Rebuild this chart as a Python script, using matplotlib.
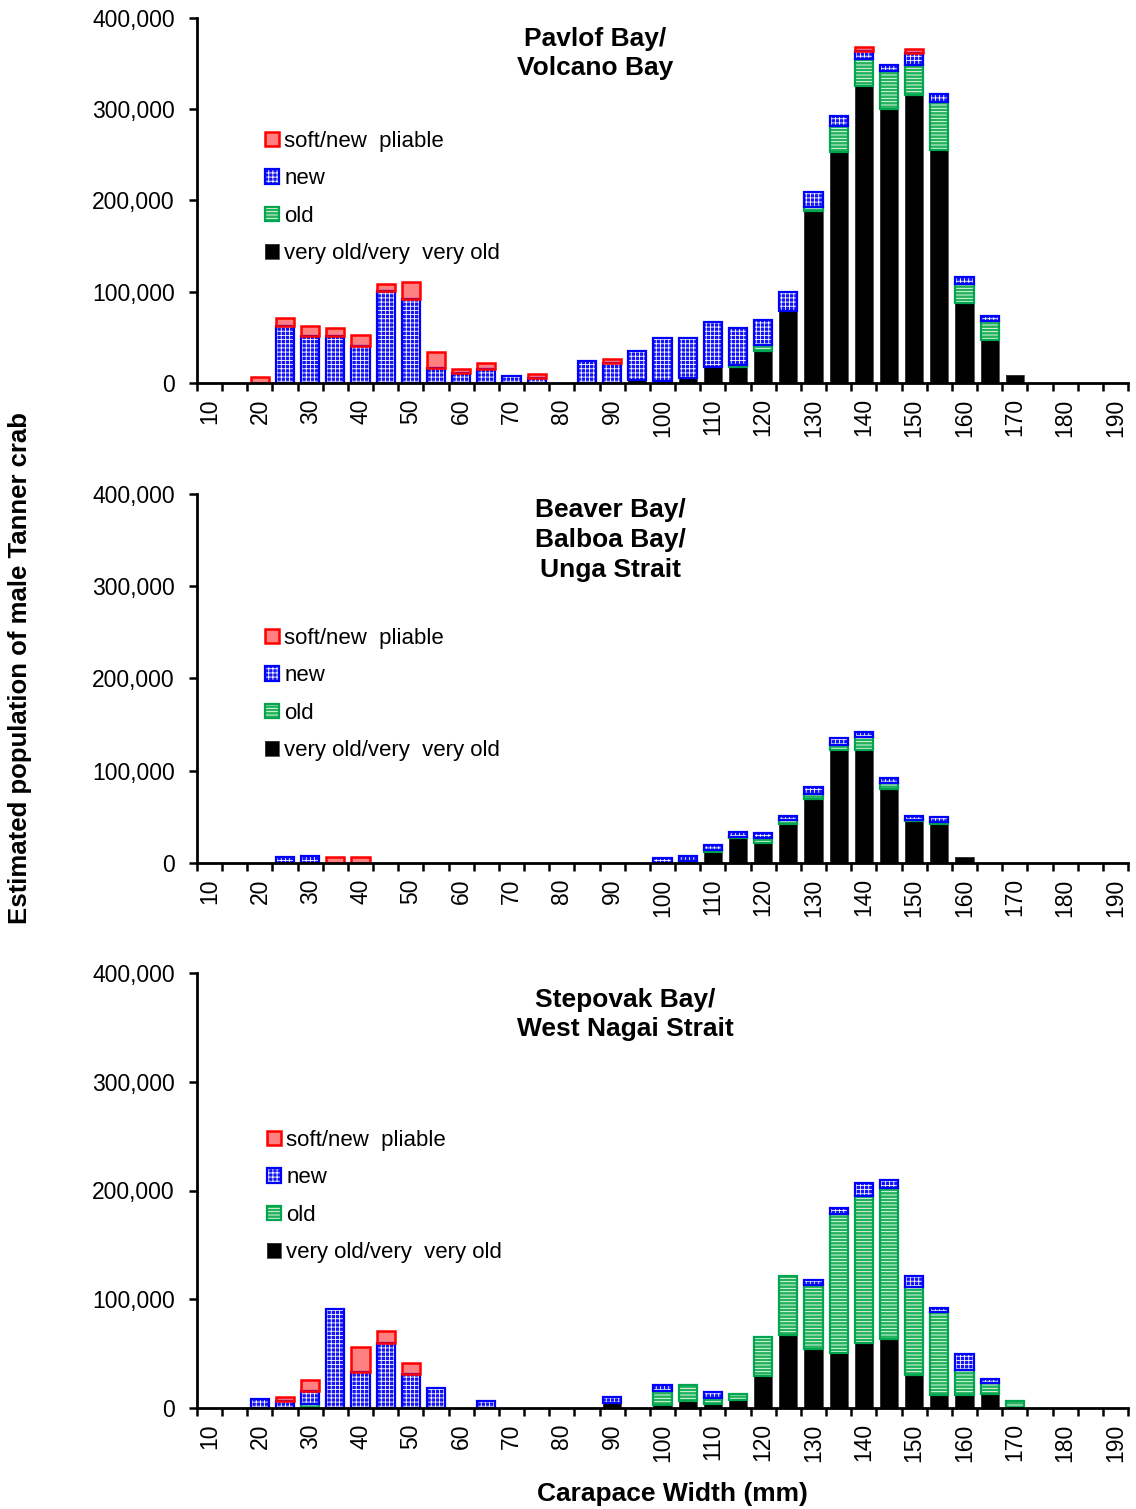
import matplotlib
matplotlib.use("Agg")
import matplotlib.pyplot as plt
from matplotlib.patches import Patch
from matplotlib.legend_handler import HandlerTuple
from matplotlib.ticker import FuncFormatter

plt.rcParams['font.family'] = ['Liberation Sans', 'DejaVu Sans']
plt.rcParams['hatch.linewidth'] = 0.6

# carapace width bins (mm)
width_mm = list(range(10, 195, 5))
tick_labels = [str(w) if w % 10 == 0 else "" for w in width_mm]

# Pavlof Bay / Volcano Bay
pav_very_old = [0, 0, 0, 0, 0, 0, 0, 0,
                0, 0, 0, 0, 0, 0, 0, 0,
                0, 3000, 2000, 5000, 18000, 17000, 35000, 79000,
                189000, 253000, 325000, 300000, 316000, 255000, 88000, 47000,
                9000, 0, 0, 0, 0]
pav_old = [0, 0, 0, 0, 0, 0, 0, 0,
           0, 0, 0, 0, 0, 0, 0, 0,
           0, 0, 0, 0, 0, 3000, 7000, 0,
           4000, 29000, 30000, 42000, 32000, 53000, 21000, 21000,
           0, 0, 0, 0, 0]
pav_new = [0, 0, 0, 63000, 52000, 52000, 41000, 101000,
           92000, 16000, 11000, 15000, 8000, 6000, 0, 24000,
           22000, 32000, 47000, 44000, 49000, 40000, 27000, 21000,
           16000, 11000, 9000, 6000, 14000, 9000, 7000, 5000,
           0, 0, 0, 0, 0]
pav_soft = [0, 0, 7000, 8000, 10000, 8000, 12000, 8000,
            19000, 18000, 4000, 7000, 0, 4000, 0, 0,
            4000, 0, 0, 0, 0, 0, 0, 0,
            0, 0, 4000, 0, 4000, 0, 0, 0,
            0, 0, 0, 0, 0]

# Beaver Bay / Balboa Bay / Unga Strait
bea_very_old = [0, 0, 0, 0, 0, 0, 0, 0,
                0, 0, 0, 0, 0, 0, 0, 0,
                0, 0, 0, 0, 12000, 27000, 22000, 42000,
                69000, 123000, 123000, 80000, 45000, 42000, 6000, 0,
                0, 0, 0, 0, 0]
bea_old = [0, 0, 0, 0, 0, 0, 0, 0,
           0, 0, 0, 0, 0, 0, 0, 0,
           0, 0, 0, 2000, 2000, 1500, 5000, 5000,
           6000, 5000, 14000, 7000, 1500, 2000, 0, 0,
           0, 0, 0, 0, 0]
bea_new = [0, 0, 0, 6000, 8000, 0, 0, 0,
           0, 0, 0, 0, 0, 0, 0, 0,
           0, 0, 5000, 6000, 6000, 5500, 5000, 4000,
           7000, 8000, 5000, 5000, 4500, 6000, 0, 0,
           0, 0, 0, 0, 0]
bea_soft = [0, 0, 0, 0, 0, 6000, 6000, 0,
            0, 0, 0, 0, 0, 0, 0, 0,
            0, 0, 0, 0, 0, 0, 0, 0,
            0, 0, 0, 0, 0, 0, 0, 0,
            0, 0, 0, 0, 0]

# Stepovak Bay / West Nagai Strait
ste_very_old = [0, 0, 0, 0, 0, 0, 0, 0,
                0, 0, 0, 0, 0, 0, 0, 0,
                5000, 0, 3000, 6000, 4000, 7000, 29000, 67000,
                54000, 51000, 60000, 63000, 30000, 12000, 12000, 13000,
                0, 0, 0, 0, 0]
ste_old = [0, 0, 0, 0, 4000, 0, 0, 0,
           0, 0, 0, 0, 0, 0, 0, 0,
           0, 0, 13000, 15000, 5000, 6000, 36000, 54000,
           59000, 127000, 135000, 139000, 81000, 76000, 23000, 10000,
           6000, 0, 0, 0, 0]
ste_new = [0, 0, 8000, 6000, 12000, 91000, 33000, 60000,
           31000, 18000, 0, 6000, 0, 0, 0, 0,
           5000, 0, 5000, 0, 6000, 0, 0, 0,
           5000, 6000, 12000, 8000, 10000, 4000, 15000, 4000,
           0, 0, 0, 0, 0]
ste_soft = [0, 0, 0, 4000, 10000, 0, 23000, 11000,
            10000, 0, 0, 0, 0, 0, 0, 0,
            0, 0, 0, 0, 0, 0, 0, 0,
            0, 0, 0, 0, 0, 0, 0, 0,
            0, 0, 0, 0, 0]

series_names = ["very old/very  very old", "old", "new", "soft/new  pliable"]
# face, edge, hatch, edge width
styles = [("black", "#404040", None, 0.6),
          ("#22B25A", "#00A550", "-----", 1.6),
          ("#1515F5", "#0000FF", "++++", 1.6),
          ("#FF8080", "#FF0000", None, 1.8)]

panels = [
    ("Pavlof Bay/\nVolcano Bay", [pav_very_old, pav_old, pav_new, pav_soft]),
    ("Beaver Bay/\nBalboa Bay/\nUnga Strait", [bea_very_old, bea_old, bea_new, bea_soft]),
    ("Stepovak Bay/\nWest Nagai Strait", [ste_very_old, ste_old, ste_new, ste_soft]),
]

W, H = 1136, 1509
fig = plt.figure(figsize=(W / 100, H / 100), dpi=100)

# axes boxes in pixels: top, bottom
boxes = [(18, 383), (494, 863), (973, 1408)]
title_pos = [(595, 53.5), (610, 540), (625, 1014.5)]
legend_top = [(265, 131), (265, 628), (267, 1130)]
x_left, x_right = 197, 1128

bar_w = 0.72
x = list(range(len(width_mm)))

for k, (title, data) in enumerate(panels):
    top, bot = boxes[k]
    ax = fig.add_axes([x_left / W, 1 - bot / H, (x_right - x_left) / W, (bot - top) / H])
    bottom = [0] * len(x)
    handles = []
    for vals, (face, edge, hatch, lw) in zip(data, styles):
        idx = [i for i in x if vals[i] > 0]
        xs = [x[i] for i in idx]
        hs = [vals[i] for i in idx]
        bs = [bottom[i] for i in idx]
        ax.bar(xs, hs, bar_w, bottom=bs, color=face, linewidth=0, zorder=2)
        if hatch:
            ax.bar(xs, hs, bar_w, bottom=bs, fill=False, hatch=hatch,
                   edgecolor="white", linewidth=0, zorder=3)
        ax.bar(xs, hs, bar_w, bottom=bs, fill=False, edgecolor=edge,
               linewidth=lw, zorder=4)
        for i in x:
            bottom[i] += vals[i]
        parts = [Patch(facecolor=face, linewidth=0)]
        if hatch:
            parts.append(Patch(fill=False, hatch=hatch, edgecolor="white", linewidth=0))
        parts.append(Patch(fill=False, edgecolor=edge, linewidth=lw))
        handles.append(tuple(parts))

    ax.set_xlim(-0.5, len(x) - 0.5)
    ax.set_ylim(0, 400000)
    ax.set_yticks([0, 100000, 200000, 300000, 400000])
    ax.yaxis.set_major_formatter(FuncFormatter(lambda v, p: f"{v:,.0f}"))
    ax.set_xticks([i - 0.5 for i in range(len(x) + 1)])
    ax.set_xticklabels([])
    ax.set_xticks(x, tick_labels, minor=True, rotation=90)
    ax.tick_params(axis="x", which="major", direction="out", length=6, width=1.8)
    ax.tick_params(axis="x", which="minor", length=0, pad=11, labelsize=16.5)
    ax.tick_params(axis="y", direction="out", length=6, width=1.8, pad=10, labelsize=16.5)
    for s in ["top", "right"]:
        ax.spines[s].set_visible(False)
    for s in ["left", "bottom"]:
        ax.spines[s].set_linewidth(2)
        ax.spines[s].set_zorder(5)

    tx, ty = title_pos[k]
    fig.text(tx / W, 1 - ty / H, title, ha="center", va="center",
             fontsize=19, fontweight="bold", linespacing=1.3)

    lx, ly = legend_top[k]
    ax.legend(handles[::-1], series_names[::-1], loc="upper left",
              bbox_to_anchor=(lx / W, 1 - ly / H), bbox_transform=fig.transFigure,
              frameon=False, fontsize=16, handlelength=0.62, handleheight=0.62,
              handletextpad=0.25, labelspacing=0.74, borderpad=0, borderaxespad=0,
              handler_map={tuple: HandlerTuple(ndivide=1, pad=0)})

fig.text(20 / W, 1 - 668 / H, "Estimated population of male Tanner crab",
         rotation=90, ha="center", va="center", fontsize=18.5, fontweight="bold")
fig.text(672 / W, 1 - 1494 / H, "Carapace Width (mm)",
         ha="center", va="center", fontsize=19, fontweight="bold")

fig.savefig("out.png", dpi=100)
